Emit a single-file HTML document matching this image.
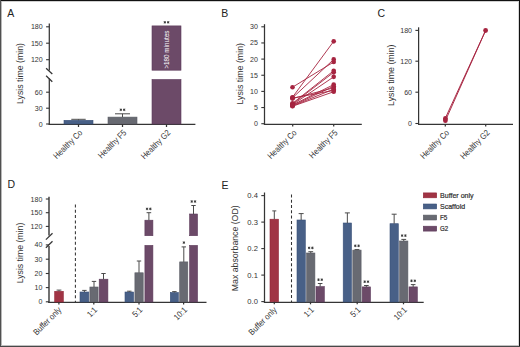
<!DOCTYPE html>
<html><head><meta charset="utf-8"><style>
html,body{margin:0;padding:0;background:#fff;width:520px;height:347px;overflow:hidden;}
svg{display:block;font-family:"Liberation Sans",sans-serif;}
</style></head><body>
<svg width="520" height="347" viewBox="0 0 520 347" font-family="Liberation Sans, sans-serif">
<rect x="0" y="0" width="520" height="347" fill="#fff"/>
<text x="7.3" y="16.7" font-size="10.5" text-anchor="start" fill="#222" >A</text>
<text x="221.3" y="16.8" font-size="10.5" text-anchor="start" fill="#222" >B</text>
<text x="377.5" y="16.8" font-size="10.5" text-anchor="start" fill="#222" >C</text>
<text x="7.6" y="188.3" font-size="10.5" text-anchor="start" fill="#222" >D</text>
<text x="221.6" y="188.5" font-size="10.5" text-anchor="start" fill="#222" >E</text>
<line x1="49.30" y1="23.50" x2="49.30" y2="70.60" stroke="#353535" stroke-width="1.25" />
<line x1="49.30" y1="78.60" x2="49.30" y2="124.90" stroke="#353535" stroke-width="1.25" />
<line x1="48.70" y1="124.30" x2="195.40" y2="124.30" stroke="#353535" stroke-width="1.25" />
<line x1="46.10" y1="26.80" x2="49.30" y2="26.80" stroke="#353535" stroke-width="1.1" />
<text x="42.70" y="29.30" font-size="7.6" text-anchor="end" fill="#333" textLength="11.79" lengthAdjust="spacingAndGlyphs">180</text>
<line x1="46.10" y1="43.20" x2="49.30" y2="43.20" stroke="#353535" stroke-width="1.1" />
<text x="42.70" y="45.70" font-size="7.6" text-anchor="end" fill="#333" textLength="11.79" lengthAdjust="spacingAndGlyphs">150</text>
<line x1="46.10" y1="59.70" x2="49.30" y2="59.70" stroke="#353535" stroke-width="1.1" />
<text x="42.70" y="62.20" font-size="7.6" text-anchor="end" fill="#333" textLength="11.79" lengthAdjust="spacingAndGlyphs">120</text>
<line x1="46.10" y1="92.20" x2="49.30" y2="92.20" stroke="#353535" stroke-width="1.1" />
<text x="42.70" y="94.70" font-size="7.6" text-anchor="end" fill="#333" textLength="7.86" lengthAdjust="spacingAndGlyphs">60</text>
<line x1="46.10" y1="108.20" x2="49.30" y2="108.20" stroke="#353535" stroke-width="1.1" />
<text x="42.70" y="110.70" font-size="7.6" text-anchor="end" fill="#333" textLength="7.86" lengthAdjust="spacingAndGlyphs">30</text>
<line x1="46.10" y1="124.00" x2="49.30" y2="124.00" stroke="#353535" stroke-width="1.1" />
<text x="42.70" y="126.50" font-size="7.6" text-anchor="end" fill="#333" textLength="3.93" lengthAdjust="spacingAndGlyphs">0</text>
<line x1="46.10" y1="68.30" x2="52.30" y2="74.00" stroke="#353535" stroke-width="1.25" />
<line x1="46.10" y1="75.70" x2="52.30" y2="81.70" stroke="#353535" stroke-width="1.25" />
<rect x="64" y="120.3" width="29.00" height="3.70" fill="#486087" stroke="#3a5079" stroke-width="0.6"/>
<line x1="78.50" y1="119.30" x2="78.50" y2="120.30" stroke="#4a4a4a" stroke-width="1.0" />
<line x1="71.30" y1="119.30" x2="85.70" y2="119.30" stroke="#4a4a4a" stroke-width="1.0" />
<rect x="108" y="117.1" width="29.00" height="6.90" fill="#686a72" stroke="#5a5c64" stroke-width="0.6"/>
<line x1="122.50" y1="113.80" x2="122.50" y2="117.10" stroke="#4a4a4a" stroke-width="1.0" />
<line x1="115.00" y1="113.80" x2="130.00" y2="113.80" stroke="#4a4a4a" stroke-width="1.0" />
<path d="M120.85,108.50L120.85,111.10M119.72,109.15L121.98,110.45M121.98,109.15L119.72,110.45" stroke="#333" stroke-width="0.85" fill="none"/>
<path d="M124.15,108.50L124.15,111.10M123.02,109.15L125.28,110.45M125.28,109.15L123.02,110.45" stroke="#333" stroke-width="0.85" fill="none"/>
<rect x="152" y="25.9" width="29.00" height="44.30" fill="#6c4a68" stroke="#5c3a5a" stroke-width="0.6"/>
<rect x="152" y="79.5" width="29.00" height="44.50" fill="#6c4a68" stroke="#5c3a5a" stroke-width="0.6"/>
<path d="M164.85,21.00L164.85,23.60M163.72,21.65L165.98,22.95M165.98,21.65L163.72,22.95" stroke="#333" stroke-width="0.85" fill="none"/>
<path d="M168.15,21.00L168.15,23.60M167.02,21.65L169.28,22.95M169.28,21.65L167.02,22.95" stroke="#333" stroke-width="0.85" fill="none"/>
<text x="0" y="0" font-size="6.3" text-anchor="middle" fill="#fff" transform="translate(168.7,49.6) rotate(-90)">&gt;180 minutes</text>
<line x1="78.50" y1="124.00" x2="78.50" y2="127.00" stroke="#353535" stroke-width="1.25" />
<line x1="122.50" y1="124.00" x2="122.50" y2="127.00" stroke="#353535" stroke-width="1.25" />
<line x1="166.50" y1="124.00" x2="166.50" y2="127.00" stroke="#353535" stroke-width="1.25" />
<text x="0" y="0" font-size="8.7" text-anchor="end" fill="#333" textLength="37.01" lengthAdjust="spacingAndGlyphs" transform="translate(83.0,133.3) rotate(-45)">Healthy Co</text>
<text x="0" y="0" font-size="8.7" text-anchor="end" fill="#333" textLength="36.18" lengthAdjust="spacingAndGlyphs" transform="translate(127.0,133.3) rotate(-45)">Healthy F5</text>
<text x="0" y="0" font-size="8.7" text-anchor="end" fill="#333" textLength="37.43" lengthAdjust="spacingAndGlyphs" transform="translate(171.0,133.3) rotate(-45)">Healthy G2</text>
<text x="0" y="0" font-size="8.85" text-anchor="middle" fill="#333" textLength="61" lengthAdjust="spacingAndGlyphs" transform="translate(23.4,73.55) rotate(-90)">Lysis time (min)</text>
<line x1="264.50" y1="24.20" x2="264.50" y2="124.90" stroke="#353535" stroke-width="1.25" />
<line x1="263.90" y1="124.30" x2="361.80" y2="124.30" stroke="#353535" stroke-width="1.25" />
<line x1="261.30" y1="123.70" x2="264.50" y2="123.70" stroke="#353535" stroke-width="1.1" />
<text x="257.90" y="126.20" font-size="7.6" text-anchor="end" fill="#333" textLength="3.93" lengthAdjust="spacingAndGlyphs">0</text>
<line x1="261.30" y1="107.55" x2="264.50" y2="107.55" stroke="#353535" stroke-width="1.1" />
<text x="257.90" y="110.05" font-size="7.6" text-anchor="end" fill="#333" textLength="3.93" lengthAdjust="spacingAndGlyphs">5</text>
<line x1="261.30" y1="91.40" x2="264.50" y2="91.40" stroke="#353535" stroke-width="1.1" />
<text x="257.90" y="93.90" font-size="7.6" text-anchor="end" fill="#333" textLength="7.86" lengthAdjust="spacingAndGlyphs">10</text>
<line x1="261.30" y1="75.25" x2="264.50" y2="75.25" stroke="#353535" stroke-width="1.1" />
<text x="257.90" y="77.75" font-size="7.6" text-anchor="end" fill="#333" textLength="7.86" lengthAdjust="spacingAndGlyphs">15</text>
<line x1="261.30" y1="59.10" x2="264.50" y2="59.10" stroke="#353535" stroke-width="1.1" />
<text x="257.90" y="61.60" font-size="7.6" text-anchor="end" fill="#333" textLength="7.86" lengthAdjust="spacingAndGlyphs">20</text>
<line x1="261.30" y1="42.95" x2="264.50" y2="42.95" stroke="#353535" stroke-width="1.1" />
<text x="257.90" y="45.45" font-size="7.6" text-anchor="end" fill="#333" textLength="7.86" lengthAdjust="spacingAndGlyphs">25</text>
<line x1="261.30" y1="26.80" x2="264.50" y2="26.80" stroke="#353535" stroke-width="1.1" />
<text x="257.90" y="29.30" font-size="7.6" text-anchor="end" fill="#333" textLength="7.86" lengthAdjust="spacingAndGlyphs">30</text>
<line x1="292.70" y1="124.00" x2="292.70" y2="126.50" stroke="#353535" stroke-width="1.25" />
<line x1="333.70" y1="124.00" x2="333.70" y2="126.50" stroke="#353535" stroke-width="1.25" />
<line x1="292.50" y1="87.20" x2="333.70" y2="62.01" stroke="#a62440" stroke-width="0.9" />
<line x1="292.50" y1="97.21" x2="333.70" y2="41.34" stroke="#a62440" stroke-width="0.9" />
<line x1="292.50" y1="97.86" x2="333.70" y2="59.42" stroke="#a62440" stroke-width="0.9" />
<line x1="292.50" y1="98.18" x2="333.70" y2="90.43" stroke="#a62440" stroke-width="0.9" />
<line x1="292.50" y1="98.51" x2="333.70" y2="87.85" stroke="#a62440" stroke-width="0.9" />
<line x1="292.50" y1="103.35" x2="333.70" y2="70.73" stroke="#a62440" stroke-width="0.9" />
<line x1="292.50" y1="104.00" x2="333.70" y2="72.34" stroke="#a62440" stroke-width="0.9" />
<line x1="292.50" y1="104.64" x2="333.70" y2="76.87" stroke="#a62440" stroke-width="0.9" />
<line x1="292.50" y1="104.97" x2="333.70" y2="84.62" stroke="#a62440" stroke-width="0.9" />
<line x1="292.50" y1="105.61" x2="333.70" y2="86.23" stroke="#a62440" stroke-width="0.9" />
<line x1="292.50" y1="105.94" x2="333.70" y2="89.14" stroke="#a62440" stroke-width="0.9" />
<line x1="292.50" y1="106.26" x2="333.70" y2="91.72" stroke="#a62440" stroke-width="0.9" />
<circle cx="292.5" cy="87.20" r="2.3" fill="#a62440"/>
<circle cx="333.7" cy="62.01" r="2.3" fill="#a62440"/>
<circle cx="292.5" cy="97.21" r="2.3" fill="#a62440"/>
<circle cx="333.7" cy="41.34" r="2.3" fill="#a62440"/>
<circle cx="292.5" cy="97.86" r="2.3" fill="#a62440"/>
<circle cx="333.7" cy="59.42" r="2.3" fill="#a62440"/>
<circle cx="292.5" cy="98.18" r="2.3" fill="#a62440"/>
<circle cx="333.7" cy="90.43" r="2.3" fill="#a62440"/>
<circle cx="292.5" cy="98.51" r="2.3" fill="#a62440"/>
<circle cx="333.7" cy="87.85" r="2.3" fill="#a62440"/>
<circle cx="292.5" cy="103.35" r="2.3" fill="#a62440"/>
<circle cx="333.7" cy="70.73" r="2.3" fill="#a62440"/>
<circle cx="292.5" cy="104.00" r="2.3" fill="#a62440"/>
<circle cx="333.7" cy="72.34" r="2.3" fill="#a62440"/>
<circle cx="292.5" cy="104.64" r="2.3" fill="#a62440"/>
<circle cx="333.7" cy="76.87" r="2.3" fill="#a62440"/>
<circle cx="292.5" cy="104.97" r="2.3" fill="#a62440"/>
<circle cx="333.7" cy="84.62" r="2.3" fill="#a62440"/>
<circle cx="292.5" cy="105.61" r="2.3" fill="#a62440"/>
<circle cx="333.7" cy="86.23" r="2.3" fill="#a62440"/>
<circle cx="292.5" cy="105.94" r="2.3" fill="#a62440"/>
<circle cx="333.7" cy="89.14" r="2.3" fill="#a62440"/>
<circle cx="292.5" cy="106.26" r="2.3" fill="#a62440"/>
<circle cx="333.7" cy="91.72" r="2.3" fill="#a62440"/>
<text x="0" y="0" font-size="8.7" text-anchor="end" fill="#333" textLength="37.01" lengthAdjust="spacingAndGlyphs" transform="translate(297.2,133.3) rotate(-45)">Healthy Co</text>
<text x="0" y="0" font-size="8.7" text-anchor="end" fill="#333" textLength="36.18" lengthAdjust="spacingAndGlyphs" transform="translate(338.2,133.3) rotate(-45)">Healthy F5</text>
<text x="0" y="0" font-size="8.85" text-anchor="middle" fill="#333" textLength="61.5" lengthAdjust="spacingAndGlyphs" transform="translate(243.4,73.75) rotate(-90)">Lysis time (min)</text>
<line x1="418.60" y1="27.30" x2="418.60" y2="124.90" stroke="#353535" stroke-width="1.25" />
<line x1="418.00" y1="124.30" x2="513.00" y2="124.30" stroke="#353535" stroke-width="1.25" />
<line x1="415.40" y1="30.40" x2="418.60" y2="30.40" stroke="#353535" stroke-width="1.1" />
<text x="412.00" y="32.90" font-size="7.6" text-anchor="end" fill="#333" textLength="11.79" lengthAdjust="spacingAndGlyphs">180</text>
<line x1="415.40" y1="61.20" x2="418.60" y2="61.20" stroke="#353535" stroke-width="1.1" />
<text x="412.00" y="63.70" font-size="7.6" text-anchor="end" fill="#333" textLength="11.79" lengthAdjust="spacingAndGlyphs">120</text>
<line x1="415.40" y1="92.20" x2="418.60" y2="92.20" stroke="#353535" stroke-width="1.1" />
<text x="412.00" y="94.70" font-size="7.6" text-anchor="end" fill="#333" textLength="7.86" lengthAdjust="spacingAndGlyphs">60</text>
<line x1="415.40" y1="123.50" x2="418.60" y2="123.50" stroke="#353535" stroke-width="1.1" />
<text x="412.00" y="126.00" font-size="7.6" text-anchor="end" fill="#333" textLength="3.93" lengthAdjust="spacingAndGlyphs">0</text>
<line x1="445.30" y1="124.00" x2="445.30" y2="126.50" stroke="#353535" stroke-width="1.25" />
<line x1="485.70" y1="124.00" x2="485.70" y2="126.50" stroke="#353535" stroke-width="1.25" />
<line x1="445.40" y1="118.00" x2="485.60" y2="30.50" stroke="#a62440" stroke-width="0.95" />
<line x1="445.40" y1="120.70" x2="485.60" y2="30.50" stroke="#a62440" stroke-width="0.95" />
<circle cx="445.4" cy="118.2" r="2.3" fill="#a62440"/>
<circle cx="445.4" cy="120.7" r="2.3" fill="#a62440"/>
<circle cx="445.4" cy="119.5" r="2.3" fill="#a62440"/>
<circle cx="485.6" cy="30.5" r="2.4" fill="#a62440"/>
<text x="0" y="0" font-size="8.7" text-anchor="end" fill="#333" textLength="37.01" lengthAdjust="spacingAndGlyphs" transform="translate(449.8,133.3) rotate(-45)">Healthy Co</text>
<text x="0" y="0" font-size="8.7" text-anchor="end" fill="#333" textLength="37.43" lengthAdjust="spacingAndGlyphs" transform="translate(490.2,133.3) rotate(-45)">Healthy G2</text>
<text x="0" y="0" font-size="8.85" text-anchor="middle" fill="#333" textLength="61.4" lengthAdjust="spacingAndGlyphs" transform="translate(394.0,75.2) rotate(-90)">Lysis time (min)</text>
<line x1="49.00" y1="196.80" x2="49.00" y2="235.60" stroke="#353535" stroke-width="1.4" />
<line x1="49.00" y1="245.90" x2="49.00" y2="302.90" stroke="#353535" stroke-width="1.4" />
<line x1="48.30" y1="302.25" x2="206.50" y2="302.25" stroke="#353535" stroke-width="1.25" />
<line x1="45.80" y1="199.00" x2="49.00" y2="199.00" stroke="#353535" stroke-width="1.1" />
<text x="42.40" y="201.50" font-size="7.6" text-anchor="end" fill="#333" textLength="11.79" lengthAdjust="spacingAndGlyphs">180</text>
<line x1="45.80" y1="212.70" x2="49.00" y2="212.70" stroke="#353535" stroke-width="1.1" />
<text x="42.40" y="215.20" font-size="7.6" text-anchor="end" fill="#333" textLength="11.79" lengthAdjust="spacingAndGlyphs">150</text>
<line x1="45.80" y1="226.40" x2="49.00" y2="226.40" stroke="#353535" stroke-width="1.1" />
<text x="42.40" y="228.90" font-size="7.6" text-anchor="end" fill="#333" textLength="11.79" lengthAdjust="spacingAndGlyphs">120</text>
<line x1="45.80" y1="244.90" x2="49.00" y2="244.90" stroke="#353535" stroke-width="1.1" />
<text x="42.40" y="247.40" font-size="7.6" text-anchor="end" fill="#333" textLength="7.86" lengthAdjust="spacingAndGlyphs">40</text>
<line x1="45.80" y1="259.20" x2="49.00" y2="259.20" stroke="#353535" stroke-width="1.1" />
<text x="42.40" y="261.70" font-size="7.6" text-anchor="end" fill="#333" textLength="7.86" lengthAdjust="spacingAndGlyphs">30</text>
<line x1="45.80" y1="273.50" x2="49.00" y2="273.50" stroke="#353535" stroke-width="1.1" />
<text x="42.40" y="276.00" font-size="7.6" text-anchor="end" fill="#333" textLength="7.86" lengthAdjust="spacingAndGlyphs">20</text>
<line x1="45.80" y1="287.60" x2="49.00" y2="287.60" stroke="#353535" stroke-width="1.1" />
<text x="42.40" y="290.10" font-size="7.6" text-anchor="end" fill="#333" textLength="7.86" lengthAdjust="spacingAndGlyphs">10</text>
<line x1="45.80" y1="301.80" x2="49.00" y2="301.80" stroke="#353535" stroke-width="1.1" />
<text x="42.40" y="304.30" font-size="7.6" text-anchor="end" fill="#333" textLength="3.93" lengthAdjust="spacingAndGlyphs">0</text>
<line x1="45.90" y1="239.60" x2="52.50" y2="233.30" stroke="#353535" stroke-width="1.25" />
<line x1="45.90" y1="247.70" x2="52.50" y2="241.30" stroke="#353535" stroke-width="1.25" />
<line x1="75.40" y1="204.40" x2="75.40" y2="302.00" stroke="#333" stroke-width="1.05" stroke-dasharray="3.0 2.35"/>
<rect x="54.7" y="291.3" width="8.60" height="10.70" fill="#a03444" stroke="#922638" stroke-width="0.6"/>
<line x1="59.00" y1="290.10" x2="59.00" y2="291.30" stroke="#4a4a4a" stroke-width="1.0" />
<line x1="56.60" y1="290.10" x2="61.40" y2="290.10" stroke="#4a4a4a" stroke-width="1.0" />
<rect x="80" y="292" width="8.80" height="10.00" fill="#486087" stroke="#3a5079" stroke-width="0.6"/>
<line x1="84.40" y1="290.40" x2="84.40" y2="292.00" stroke="#4a4a4a" stroke-width="1.0" />
<line x1="82.20" y1="290.40" x2="86.60" y2="290.40" stroke="#4a4a4a" stroke-width="1.0" />
<rect x="89.9" y="287" width="8.20" height="15.00" fill="#686a72" stroke="#5a5c64" stroke-width="0.6"/>
<line x1="94.00" y1="281.40" x2="94.00" y2="287.00" stroke="#4a4a4a" stroke-width="1.0" />
<line x1="91.80" y1="281.40" x2="96.20" y2="281.40" stroke="#4a4a4a" stroke-width="1.0" />
<rect x="99.2" y="279.2" width="8.70" height="22.80" fill="#6c4a68" stroke="#5c3a5a" stroke-width="0.6"/>
<line x1="103.50" y1="273.50" x2="103.50" y2="279.20" stroke="#4a4a4a" stroke-width="1.0" />
<line x1="101.30" y1="273.50" x2="105.70" y2="273.50" stroke="#4a4a4a" stroke-width="1.0" />
<rect x="125" y="292" width="8.60" height="10.00" fill="#486087" stroke="#3a5079" stroke-width="0.6"/>
<line x1="129.30" y1="291.20" x2="129.30" y2="292.00" stroke="#4a4a4a" stroke-width="1.0" />
<line x1="127.10" y1="291.20" x2="131.50" y2="291.20" stroke="#4a4a4a" stroke-width="1.0" />
<rect x="134.9" y="272.8" width="8.30" height="29.20" fill="#686a72" stroke="#5a5c64" stroke-width="0.6"/>
<line x1="139.00" y1="261.00" x2="139.00" y2="272.80" stroke="#4a4a4a" stroke-width="1.0" />
<line x1="136.80" y1="261.00" x2="141.20" y2="261.00" stroke="#4a4a4a" stroke-width="1.0" />
<rect x="144.9" y="220.2" width="8.00" height="15.50" fill="#6c4a68" stroke="#5c3a5a" stroke-width="0.6"/>
<rect x="144.9" y="245.4" width="8.00" height="56.60" fill="#6c4a68" stroke="#5c3a5a" stroke-width="0.6"/>
<line x1="148.90" y1="212.70" x2="148.90" y2="220.20" stroke="#4a4a4a" stroke-width="1.0" />
<line x1="146.60" y1="212.70" x2="151.20" y2="212.70" stroke="#4a4a4a" stroke-width="1.0" />
<path d="M147.05,207.60L147.05,210.20M145.92,208.25L148.18,209.55M148.18,208.25L145.92,209.55" stroke="#333" stroke-width="0.85" fill="none"/>
<path d="M150.35,207.60L150.35,210.20M149.22,208.25L151.48,209.55M151.48,208.25L149.22,209.55" stroke="#333" stroke-width="0.85" fill="none"/>
<rect x="170.3" y="292.5" width="8.10" height="9.50" fill="#486087" stroke="#3a5079" stroke-width="0.6"/>
<line x1="174.40" y1="291.60" x2="174.40" y2="292.50" stroke="#4a4a4a" stroke-width="1.0" />
<line x1="172.20" y1="291.60" x2="176.60" y2="291.60" stroke="#4a4a4a" stroke-width="1.0" />
<rect x="179.7" y="261.9" width="8.10" height="40.10" fill="#686a72" stroke="#5a5c64" stroke-width="0.6"/>
<line x1="183.80" y1="246.90" x2="183.80" y2="261.90" stroke="#4a4a4a" stroke-width="1.0" />
<line x1="181.60" y1="246.90" x2="186.00" y2="246.90" stroke="#4a4a4a" stroke-width="1.0" />
<path d="M183.90,241.30L183.90,243.90M182.77,241.95L185.03,243.25M185.03,241.95L182.77,243.25" stroke="#333" stroke-width="0.85" fill="none"/>
<rect x="189.6" y="214.0" width="7.90" height="21.70" fill="#6c4a68" stroke="#5c3a5a" stroke-width="0.6"/>
<rect x="189.6" y="245.4" width="7.90" height="56.60" fill="#6c4a68" stroke="#5c3a5a" stroke-width="0.6"/>
<line x1="193.50" y1="205.50" x2="193.50" y2="214.00" stroke="#4a4a4a" stroke-width="1.0" />
<line x1="191.30" y1="205.50" x2="195.70" y2="205.50" stroke="#4a4a4a" stroke-width="1.0" />
<path d="M191.75,200.20L191.75,202.80M190.62,200.85L192.88,202.15M192.88,200.85L190.62,202.15" stroke="#333" stroke-width="0.85" fill="none"/>
<path d="M195.05,200.20L195.05,202.80M193.92,200.85L196.18,202.15M196.18,200.85L193.92,202.15" stroke="#333" stroke-width="0.85" fill="none"/>
<line x1="58.90" y1="302.00" x2="58.90" y2="304.50" stroke="#353535" stroke-width="1.25" />
<line x1="93.80" y1="302.00" x2="93.80" y2="304.50" stroke="#353535" stroke-width="1.25" />
<line x1="139.00" y1="302.00" x2="139.00" y2="304.50" stroke="#353535" stroke-width="1.25" />
<line x1="183.60" y1="302.00" x2="183.60" y2="304.50" stroke="#353535" stroke-width="1.25" />
<text x="0" y="0" font-size="8.7" text-anchor="end" fill="#333" textLength="35.63" lengthAdjust="spacingAndGlyphs" transform="translate(61.9,310.5) rotate(-45)">Buffer only</text>
<text x="0" y="0" font-size="8.7" text-anchor="end" fill="#333" textLength="10.40" lengthAdjust="spacingAndGlyphs" transform="translate(97.8,310.5) rotate(-45)">1:1</text>
<text x="0" y="0" font-size="8.7" text-anchor="end" fill="#333" textLength="10.40" lengthAdjust="spacingAndGlyphs" transform="translate(143.0,310.5) rotate(-45)">5:1</text>
<text x="0" y="0" font-size="8.7" text-anchor="end" fill="#333" textLength="14.56" lengthAdjust="spacingAndGlyphs" transform="translate(187.6,310.5) rotate(-45)">10:1</text>
<text x="0" y="0" font-size="8.85" text-anchor="middle" fill="#333" textLength="60.6" lengthAdjust="spacingAndGlyphs" transform="translate(23.4,253) rotate(-90)">Lysis time (min)</text>
<line x1="264.50" y1="192.50" x2="264.50" y2="302.90" stroke="#353535" stroke-width="1.25" />
<line x1="263.90" y1="302.25" x2="423.70" y2="302.25" stroke="#353535" stroke-width="1.25" />
<line x1="261.30" y1="301.60" x2="264.50" y2="301.60" stroke="#353535" stroke-width="1.1" />
<text x="257.90" y="304.10" font-size="7.6" text-anchor="end" fill="#333" textLength="10.56" lengthAdjust="spacingAndGlyphs">0.0</text>
<line x1="261.30" y1="275.10" x2="264.50" y2="275.10" stroke="#353535" stroke-width="1.1" />
<text x="257.90" y="277.60" font-size="7.6" text-anchor="end" fill="#333" textLength="10.56" lengthAdjust="spacingAndGlyphs">0.1</text>
<line x1="261.30" y1="248.60" x2="264.50" y2="248.60" stroke="#353535" stroke-width="1.1" />
<text x="257.90" y="251.10" font-size="7.6" text-anchor="end" fill="#333" textLength="10.56" lengthAdjust="spacingAndGlyphs">0.2</text>
<line x1="261.30" y1="222.10" x2="264.50" y2="222.10" stroke="#353535" stroke-width="1.1" />
<text x="257.90" y="224.60" font-size="7.6" text-anchor="end" fill="#333" textLength="10.56" lengthAdjust="spacingAndGlyphs">0.3</text>
<line x1="261.30" y1="195.60" x2="264.50" y2="195.60" stroke="#353535" stroke-width="1.1" />
<text x="257.90" y="198.10" font-size="7.6" text-anchor="end" fill="#333" textLength="10.56" lengthAdjust="spacingAndGlyphs">0.4</text>
<line x1="291.50" y1="194.40" x2="291.50" y2="302.00" stroke="#333" stroke-width="1.05" stroke-dasharray="3.0 2.3"/>
<rect x="270" y="219.2" width="8.50" height="82.60" fill="#a03444" stroke="#922638" stroke-width="0.6"/>
<line x1="274.30" y1="210.90" x2="274.30" y2="219.20" stroke="#4a4a4a" stroke-width="1.0" />
<line x1="272.30" y1="210.90" x2="276.30" y2="210.90" stroke="#4a4a4a" stroke-width="1.0" />
<rect x="297" y="220" width="8.30" height="82.00" fill="#486087" stroke="#3a5079" stroke-width="0.6"/>
<line x1="301.15" y1="213.60" x2="301.15" y2="220.00" stroke="#4a4a4a" stroke-width="1.0" />
<line x1="298.65" y1="213.60" x2="303.65" y2="213.60" stroke="#4a4a4a" stroke-width="1.0" />
<rect x="306.6" y="253.0" width="8.30" height="49.00" fill="#686a72" stroke="#5a5c64" stroke-width="0.6"/>
<line x1="310.75" y1="251.70" x2="310.75" y2="253.00" stroke="#4a4a4a" stroke-width="1.0" />
<line x1="308.35" y1="251.70" x2="313.15" y2="251.70" stroke="#4a4a4a" stroke-width="1.0" />
<path d="M309.10,246.60L309.10,249.20M307.97,247.25L310.23,248.55M310.23,247.25L307.97,248.55" stroke="#333" stroke-width="0.85" fill="none"/>
<path d="M312.40,246.60L312.40,249.20M311.27,247.25L313.53,248.55M313.53,247.25L311.27,248.55" stroke="#333" stroke-width="0.85" fill="none"/>
<rect x="316.0" y="286.6" width="8.30" height="15.40" fill="#6c4a68" stroke="#5c3a5a" stroke-width="0.6"/>
<line x1="320.15" y1="283.50" x2="320.15" y2="286.60" stroke="#4a4a4a" stroke-width="1.0" />
<line x1="317.85" y1="283.50" x2="322.45" y2="283.50" stroke="#4a4a4a" stroke-width="1.0" />
<path d="M318.50,278.40L318.50,281.00M317.37,279.05L319.63,280.35M319.63,279.05L317.37,280.35" stroke="#333" stroke-width="0.85" fill="none"/>
<path d="M321.80,278.40L321.80,281.00M320.67,279.05L322.93,280.35M322.93,279.05L320.67,280.35" stroke="#333" stroke-width="0.85" fill="none"/>
<rect x="343.2" y="223.0" width="8.30" height="79.00" fill="#486087" stroke="#3a5079" stroke-width="0.6"/>
<line x1="347.35" y1="212.90" x2="347.35" y2="223.00" stroke="#4a4a4a" stroke-width="1.0" />
<line x1="344.85" y1="212.90" x2="349.85" y2="212.90" stroke="#4a4a4a" stroke-width="1.0" />
<rect x="352.8" y="250.1" width="8.30" height="51.90" fill="#686a72" stroke="#5a5c64" stroke-width="0.6"/>
<line x1="356.95" y1="249.60" x2="356.95" y2="250.10" stroke="#4a4a4a" stroke-width="1.0" />
<line x1="354.55" y1="249.60" x2="359.35" y2="249.60" stroke="#4a4a4a" stroke-width="1.0" />
<path d="M355.30,244.50L355.30,247.10M354.17,245.15L356.43,246.45M356.43,245.15L354.17,246.45" stroke="#333" stroke-width="0.85" fill="none"/>
<path d="M358.60,244.50L358.60,247.10M357.47,245.15L359.73,246.45M359.73,245.15L357.47,246.45" stroke="#333" stroke-width="0.85" fill="none"/>
<rect x="362.2" y="286.9" width="8.30" height="15.10" fill="#6c4a68" stroke="#5c3a5a" stroke-width="0.6"/>
<line x1="366.35" y1="285.50" x2="366.35" y2="286.90" stroke="#4a4a4a" stroke-width="1.0" />
<line x1="364.05" y1="285.50" x2="368.65" y2="285.50" stroke="#4a4a4a" stroke-width="1.0" />
<path d="M364.70,280.40L364.70,283.00M363.57,281.05L365.83,282.35M365.83,281.05L363.57,282.35" stroke="#333" stroke-width="0.85" fill="none"/>
<path d="M368.00,280.40L368.00,283.00M366.87,281.05L369.13,282.35M369.13,281.05L366.87,282.35" stroke="#333" stroke-width="0.85" fill="none"/>
<rect x="390" y="223.7" width="8.30" height="78.30" fill="#486087" stroke="#3a5079" stroke-width="0.6"/>
<line x1="394.15" y1="214.20" x2="394.15" y2="223.70" stroke="#4a4a4a" stroke-width="1.0" />
<line x1="391.65" y1="214.20" x2="396.65" y2="214.20" stroke="#4a4a4a" stroke-width="1.0" />
<rect x="399.6" y="241.0" width="8.30" height="61.00" fill="#686a72" stroke="#5a5c64" stroke-width="0.6"/>
<line x1="403.75" y1="239.40" x2="403.75" y2="241.00" stroke="#4a4a4a" stroke-width="1.0" />
<line x1="401.35" y1="239.40" x2="406.15" y2="239.40" stroke="#4a4a4a" stroke-width="1.0" />
<path d="M402.10,234.30L402.10,236.90M400.97,234.95L403.23,236.25M403.23,234.95L400.97,236.25" stroke="#333" stroke-width="0.85" fill="none"/>
<path d="M405.40,234.30L405.40,236.90M404.27,234.95L406.53,236.25M406.53,234.95L404.27,236.25" stroke="#333" stroke-width="0.85" fill="none"/>
<rect x="409.0" y="286.9" width="8.30" height="15.10" fill="#6c4a68" stroke="#5c3a5a" stroke-width="0.6"/>
<line x1="413.15" y1="284.60" x2="413.15" y2="286.90" stroke="#4a4a4a" stroke-width="1.0" />
<line x1="410.85" y1="284.60" x2="415.45" y2="284.60" stroke="#4a4a4a" stroke-width="1.0" />
<path d="M411.50,279.50L411.50,282.10M410.37,280.15L412.63,281.45M412.63,280.15L410.37,281.45" stroke="#333" stroke-width="0.85" fill="none"/>
<path d="M414.80,279.50L414.80,282.10M413.67,280.15L415.93,281.45M415.93,280.15L413.67,281.45" stroke="#333" stroke-width="0.85" fill="none"/>
<line x1="274.30" y1="301.80" x2="274.30" y2="304.30" stroke="#353535" stroke-width="1.25" />
<line x1="310.50" y1="301.80" x2="310.50" y2="304.30" stroke="#353535" stroke-width="1.25" />
<line x1="357.20" y1="301.80" x2="357.20" y2="304.30" stroke="#353535" stroke-width="1.25" />
<line x1="403.50" y1="301.80" x2="403.50" y2="304.30" stroke="#353535" stroke-width="1.25" />
<text x="0" y="0" font-size="8.7" text-anchor="end" fill="#333" textLength="35.63" lengthAdjust="spacingAndGlyphs" transform="translate(277.3,310.5) rotate(-45)">Buffer only</text>
<text x="0" y="0" font-size="8.7" text-anchor="end" fill="#333" textLength="10.40" lengthAdjust="spacingAndGlyphs" transform="translate(314.5,310.5) rotate(-45)">1:1</text>
<text x="0" y="0" font-size="8.7" text-anchor="end" fill="#333" textLength="10.40" lengthAdjust="spacingAndGlyphs" transform="translate(361.2,310.5) rotate(-45)">5:1</text>
<text x="0" y="0" font-size="8.7" text-anchor="end" fill="#333" textLength="14.56" lengthAdjust="spacingAndGlyphs" transform="translate(407.5,310.5) rotate(-45)">10:1</text>
<text x="0" y="0" font-size="8.85" text-anchor="middle" fill="#333" textLength="85.8" lengthAdjust="spacingAndGlyphs" transform="translate(237.6,248.3) rotate(-90)">Max absorbance (OD)</text>
<rect x="423.3" y="192.9" width="13.40" height="4.90" fill="#a03444" stroke="#922638" stroke-width="0.6"/>
<text x="440" y="197.90" font-size="7.9" fill="#2a2a2a" stroke="#2a2a2a" stroke-width="0.2" textLength="33.6" lengthAdjust="spacingAndGlyphs">Buffer only</text>
<rect x="423.3" y="204.0" width="13.40" height="4.90" fill="#486087" stroke="#3a5079" stroke-width="0.6"/>
<text x="440" y="209.00" font-size="7.9" fill="#2a2a2a" stroke="#2a2a2a" stroke-width="0.2" textLength="25.2" lengthAdjust="spacingAndGlyphs">Scaffold</text>
<rect x="423.3" y="215.1" width="13.40" height="4.90" fill="#686a72" stroke="#5a5c64" stroke-width="0.6"/>
<text x="440" y="220.10" font-size="7.9" fill="#2a2a2a" stroke="#2a2a2a" stroke-width="0.2" textLength="7.4" lengthAdjust="spacingAndGlyphs">F5</text>
<rect x="423.3" y="226.2" width="13.40" height="4.90" fill="#6c4a68" stroke="#5c3a5a" stroke-width="0.6"/>
<text x="440" y="231.20" font-size="7.9" fill="#2a2a2a" stroke="#2a2a2a" stroke-width="0.2" textLength="8.2" lengthAdjust="spacingAndGlyphs">G2</text>
<rect x="0" y="1" width="520" height="1" fill="#d0d0d0"/>
<rect x="518" y="0" width="1" height="347" fill="#d8d8d8"/>
<rect x="1" y="0" width="1" height="347" fill="#b8b8b8"/>
<rect x="0" y="345" width="520" height="1" fill="#c0c0c0"/>
<rect x="0" y="0" width="520" height="1" fill="#111"/>
<rect x="519" y="0" width="1" height="347" fill="#111"/>
<rect x="0" y="0" width="1" height="347" fill="#505050"/>
<rect x="0" y="346" width="520" height="1" fill="#484848"/>
</svg>
</body></html>
